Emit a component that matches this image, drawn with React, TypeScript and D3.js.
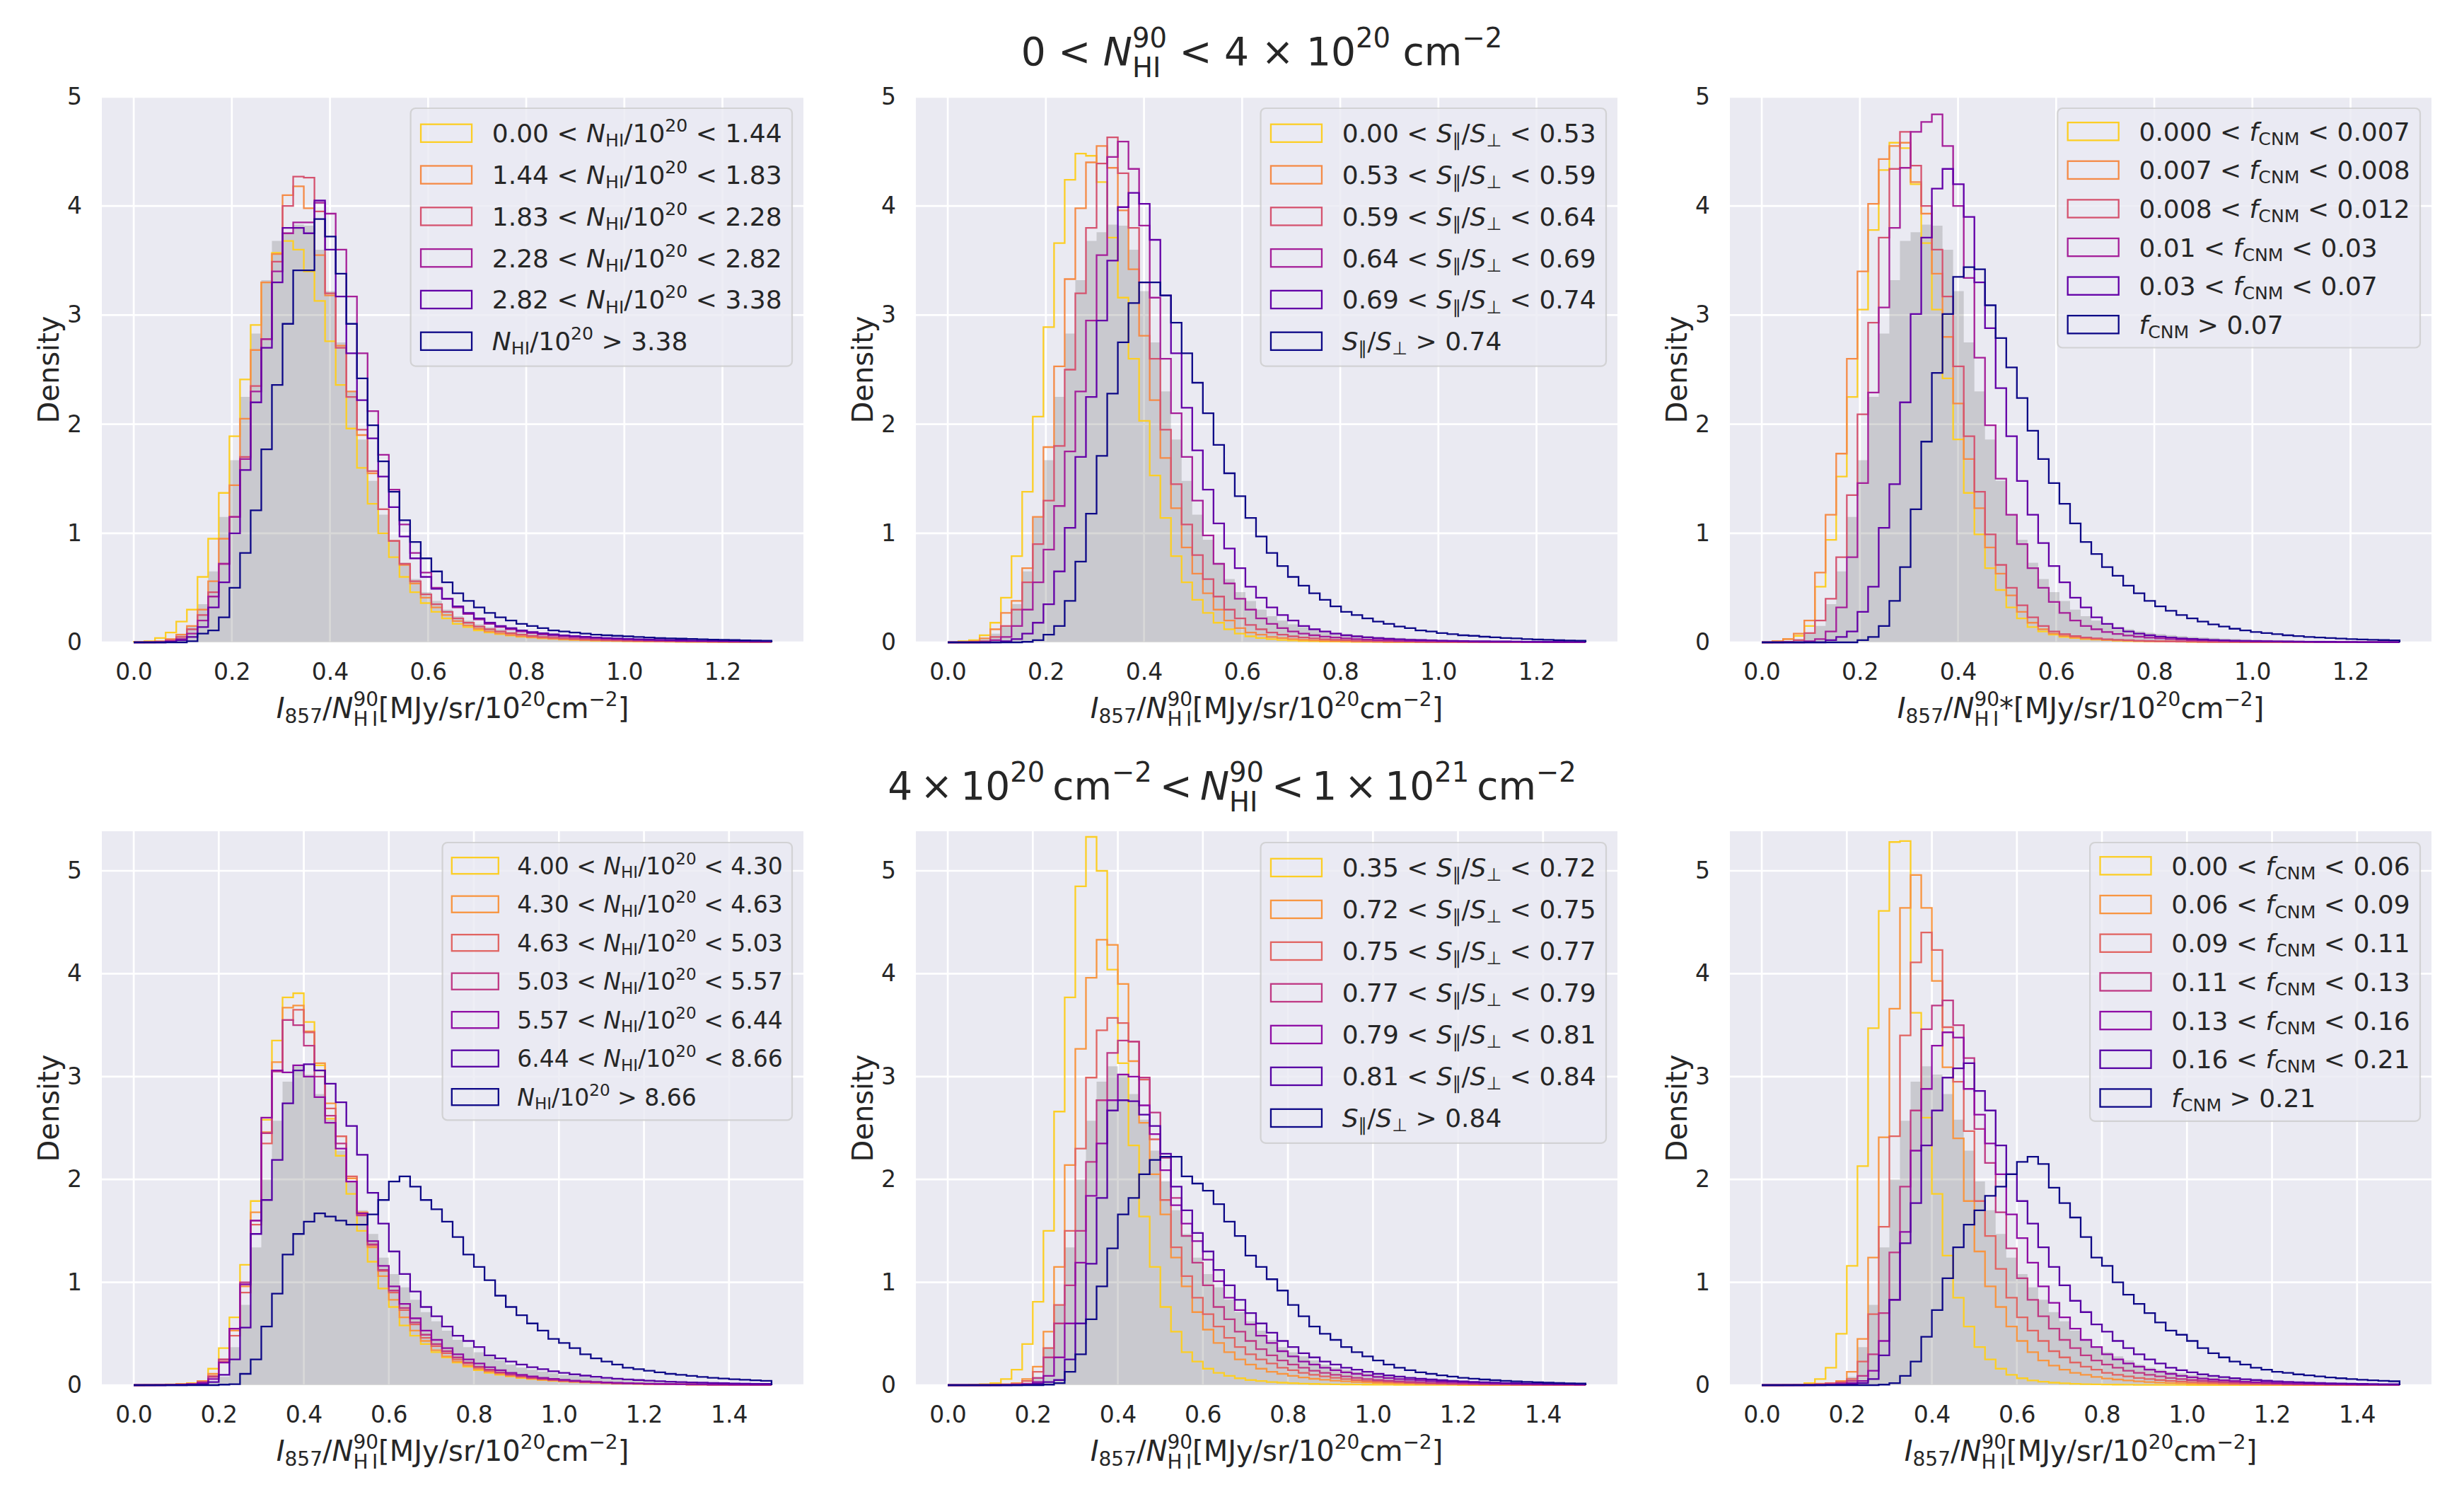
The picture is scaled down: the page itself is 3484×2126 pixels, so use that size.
import { useEffect, useRef } from "react";
import * as d3 from "d3";

// ── Figure geometry (px) ─────────────────────────────────────────────────────
const W = 3484;
const H = 2126;
const FONT = "DejaVu Sans";
const INK = "#262626";
const FACE = "#eaeaf2";
const COL_LEFT = [144, 1295, 2446];
const PANEL_W = 992;
const ROW_TOP = [137, 1175];
const ROW_BOTTOM = [908, 1958];
const TITLE_CX = [1784, 1742];
const BINS = 60;

// ── Row settings ─────────────────────────────────────────────────────────────
const ROW_XMAX = [1.3, 1.5];
const ROW_XDOMAIN = [[-0.065, 1.365], [-0.075, 1.575]];
const ROW_YMAX = [5, 5.385];
const ROW_XTICKS = [
  [0, 0.2, 0.4, 0.6, 0.8, 1.0, 1.2],
  [0, 0.2, 0.4, 0.6, 0.8, 1.0, 1.2, 1.4],
];
const Y_TICKS = [0, 1, 2, 3, 4, 5];
const LOW_T = [0.9, 0.72, 0.54, 0.36, 0.18, 0];
const HIGH_T = [0.9, 0.75, 0.6, 0.45, 0.3, 0.15, 0];

// ── Legend ranges ────────────────────────────────────────────────────────────
const NHI_LOW_RANGES = [["0.00", "1.44"], ["1.44", "1.83"], ["1.83", "2.28"], ["2.28", "2.82"], ["2.82", "3.38"]];
const NHI_LOW_TOP = "3.38";
const S_LOW_RANGES = [["0.00", "0.53"], ["0.53", "0.59"], ["0.59", "0.64"], ["0.64", "0.69"], ["0.69", "0.74"]];
const S_LOW_TOP = "0.74";
const F_LOW_RANGES = [["0.000", "0.007"], ["0.007", "0.008"], ["0.008", "0.012"], ["0.01", "0.03"], ["0.03", "0.07"]];
const F_LOW_TOP = "0.07";
const NHI_HIGH_RANGES = [["4.00", "4.30"], ["4.30", "4.63"], ["4.63", "5.03"], ["5.03", "5.57"], ["5.57", "6.44"], ["6.44", "8.66"]];
const NHI_HIGH_TOP = "8.66";
const S_HIGH_RANGES = [["0.35", "0.72"], ["0.72", "0.75"], ["0.75", "0.77"], ["0.77", "0.79"], ["0.79", "0.81"], ["0.81", "0.84"]];
const S_HIGH_TOP = "0.84";
const F_HIGH_RANGES = [["0.00", "0.06"], ["0.06", "0.09"], ["0.09", "0.11"], ["0.11", "0.13"], ["0.13", "0.16"], ["0.16", "0.21"]];
const F_HIGH_TOP = "0.21";

// ── Histogram densities, 0 < N_HI < 4e20 (60 bins over 0–1.3) ───────────────
const GREY_LOW = [
  0, 0.005, 0.01, 0.03, 0.08, 0.15, 0.35, 0.65, 1.15, 1.67,
  2.25, 2.83, 3.32, 3.68, 3.76, 3.83, 3.82, 3.6, 3.22, 2.75,
  2.3, 1.86, 1.48, 1.17, 0.94, 0.73, 0.58, 0.46, 0.38, 0.3,
  0.24, 0.2, 0.165, 0.14, 0.12, 0.1, 0.087, 0.076, 0.066, 0.058,
  0.051, 0.045, 0.04, 0.036, 0.032, 0.029, 0.026, 0.023, 0.021, 0.019,
  0.017, 0.015, 0.014, 0.013, 0.012, 0.011, 0.01, 0.009, 0.008, 0.007,
];

const LOW_NHI = [
  [0.004, 0.011, 0.04, 0.09, 0.19, 0.3, 0.6, 0.95, 1.37, 1.89,
    2.41, 2.91, 3.3, 3.57, 3.68, 3.6, 3.4, 3.13, 2.76, 2.36,
    1.96, 1.6, 1.27, 1.0, 0.78, 0.6, 0.46, 0.36, 0.28, 0.22,
    0.17, 0.14, 0.11, 0.09, 0.075, 0.062, 0.052, 0.044, 0.037, 0.031,
    0.026, 0.022, 0.019, 0.016, 0.014, 0.012, 0.01, 0.009, 0.008, 0.007,
    0.006, 0.005, 0.005, 0.004, 0.004, 0.003, 0.003, 0.003, 0.002, 0.002],
  [0, 0.005, 0.01, 0.03, 0.07, 0.15, 0.3, 0.56, 0.95, 1.44,
    2.05, 2.68, 3.3, 3.56, 4.1, 4.18, 3.98, 3.55, 3.18, 2.72,
    2.3, 1.9, 1.55, 1.22, 0.93, 0.71, 0.54, 0.41, 0.32, 0.25,
    0.195, 0.155, 0.125, 0.1, 0.082, 0.068, 0.056, 0.047, 0.04, 0.034,
    0.029, 0.025, 0.021, 0.018, 0.016, 0.014, 0.012, 0.011, 0.01, 0.009,
    0.008, 0.007, 0.006, 0.006, 0.005, 0.005, 0.004, 0.004, 0.003, 0.003],
  [0, 0, 0.005, 0.02, 0.05, 0.12, 0.25, 0.46, 0.72, 1.15,
    1.7, 2.35, 2.78, 3.49, 4.0, 4.27, 4.26, 3.95, 3.2, 2.7,
    2.25, 1.95, 1.57, 1.22, 0.93, 0.72, 0.56, 0.44, 0.35, 0.28,
    0.22, 0.18, 0.145, 0.12, 0.1, 0.083, 0.07, 0.059, 0.05, 0.043,
    0.037, 0.032, 0.028, 0.024, 0.021, 0.018, 0.016, 0.014, 0.012, 0.011,
    0.01, 0.009, 0.008, 0.007, 0.006, 0.006, 0.005, 0.005, 0.004, 0.004],
  [0, 0, 0, 0.01, 0.03, 0.08, 0.2, 0.42, 0.72, 1.15,
    1.68, 2.3, 2.78, 3.4, 3.75, 3.85, 3.85, 4.03, 3.93, 3.6,
    3.17, 2.65, 2.12, 1.72, 1.4, 1.08, 0.82, 0.64, 0.5, 0.4,
    0.32, 0.26, 0.21, 0.17, 0.14, 0.12, 0.1, 0.085, 0.073, 0.063,
    0.055, 0.048, 0.042, 0.037, 0.032, 0.028, 0.025, 0.022, 0.019, 0.017,
    0.015, 0.013, 0.012, 0.011, 0.01, 0.009, 0.008, 0.007, 0.006, 0.006],
  [0, 0, 0, 0.005, 0.02, 0.05, 0.14, 0.32, 0.55, 1.0,
    1.58, 2.2, 2.7, 3.3, 3.8, 3.8, 3.75, 4.05, 3.6, 3.17,
    2.65, 2.22, 1.87, 1.52, 1.24, 0.97, 0.77, 0.6, 0.49, 0.4,
    0.33, 0.27, 0.22, 0.18, 0.15, 0.13, 0.11, 0.095, 0.083, 0.073,
    0.064, 0.057, 0.051, 0.045, 0.04, 0.036, 0.032, 0.029, 0.026, 0.023,
    0.021, 0.019, 0.017, 0.015, 0.014, 0.013, 0.012, 0.011, 0.01, 0.009],
  [0, 0, 0, 0, 0, 0.01, 0.08, 0.11, 0.23, 0.5,
    0.82, 1.21, 1.77, 2.36, 2.92, 3.41, 3.41, 3.88, 3.72, 3.38,
    2.92, 2.42, 1.99, 1.66, 1.38, 1.12, 0.92, 0.77, 0.65, 0.55,
    0.45, 0.38, 0.32, 0.27, 0.23, 0.2, 0.17, 0.15, 0.13, 0.11,
    0.1, 0.09, 0.08, 0.07, 0.065, 0.06, 0.055, 0.05, 0.045, 0.04,
    0.037, 0.034, 0.031, 0.028, 0.025, 0.023, 0.021, 0.019, 0.017, 0.015],
];

const LOW_S = [
  [0, 0.01, 0.02, 0.065, 0.18, 0.41, 0.79, 1.38, 2.07, 2.89,
    3.66, 4.24, 4.48, 4.46, 4.22, 3.71, 3.16, 2.6, 2.03, 1.53,
    1.14, 0.79, 0.55, 0.39, 0.27, 0.18, 0.12, 0.08, 0.055, 0.04,
    0.03, 0.022, 0.017, 0.013, 0.01, 0.008, 0.007, 0.006, 0.005, 0.004,
    0.004, 0.003, 0.003, 0.003, 0.002, 0.002, 0.002, 0.002, 0.001, 0.001,
    0.001, 0.001, 0.001, 0.001, 0.001, 0.001, 0.001, 0.001, 0.001, 0.001],
  [0, 0, 0.01, 0.036, 0.12, 0.27, 0.38, 0.68, 1.15, 1.79,
    2.53, 3.33, 3.98, 4.4, 4.55, 4.35, 3.96, 3.42, 2.81, 2.22,
    1.69, 1.23, 0.87, 0.63, 0.45, 0.3, 0.2, 0.13, 0.09, 0.07,
    0.05, 0.04, 0.03, 0.024, 0.019, 0.015, 0.012, 0.01, 0.008, 0.007,
    0.006, 0.005, 0.004, 0.004, 0.003, 0.003, 0.003, 0.002, 0.002, 0.002,
    0.002, 0.002, 0.001, 0.001, 0.001, 0.001, 0.001, 0.001, 0.001, 0.001],
  [0, 0, 0, 0.01, 0.05, 0.15, 0.3, 0.55, 0.9, 1.3,
    1.8, 2.5, 3.2, 3.8, 4.39, 4.63, 4.3, 3.8, 3.3, 2.6,
    1.95, 1.45, 1.08, 0.8, 0.58, 0.42, 0.3, 0.22, 0.16, 0.12,
    0.09, 0.07, 0.055, 0.045, 0.036, 0.029, 0.024, 0.02, 0.016, 0.013,
    0.011, 0.009, 0.008, 0.007, 0.006, 0.005, 0.004, 0.004, 0.003, 0.003,
    0.003, 0.002, 0.002, 0.002, 0.002, 0.001, 0.001, 0.001, 0.001, 0.001],
  [0, 0, 0, 0, 0.02, 0.05, 0.15, 0.3, 0.55, 0.85,
    1.25, 1.75, 2.3, 2.95, 3.55, 4.45, 4.59, 4.34, 3.82, 3.16,
    2.6, 2.1, 1.7, 1.3, 0.98, 0.72, 0.54, 0.4, 0.3, 0.22,
    0.17, 0.13, 0.1, 0.08, 0.065, 0.053, 0.044, 0.036, 0.03, 0.025,
    0.021, 0.018, 0.015, 0.013, 0.011, 0.01, 0.009, 0.008, 0.007, 0.006,
    0.005, 0.005, 0.004, 0.004, 0.003, 0.003, 0.003, 0.002, 0.002, 0.002],
  [0, 0, 0, 0, 0, 0.01, 0.03, 0.08, 0.18, 0.35,
    0.65, 1.05, 1.7, 2.25, 2.95, 3.5, 3.99, 4.12, 4.02, 3.69,
    3.18, 2.65, 2.15, 1.76, 1.4, 1.09, 0.86, 0.68, 0.51, 0.41,
    0.32, 0.25, 0.2, 0.15, 0.12, 0.1, 0.08, 0.065, 0.055, 0.046,
    0.039, 0.033, 0.028, 0.024, 0.021, 0.018, 0.016, 0.014, 0.012, 0.011,
    0.01, 0.009, 0.008, 0.007, 0.006, 0.006, 0.005, 0.005, 0.004, 0.004],
  [0, 0, 0, 0, 0, 0, 0, 0.005, 0.02, 0.07,
    0.15, 0.38, 0.74, 1.18, 1.71, 2.28, 2.75, 3.11, 3.3, 3.3,
    3.18, 2.93, 2.65, 2.38, 2.1, 1.81, 1.55, 1.34, 1.14, 0.97,
    0.82, 0.7, 0.6, 0.52, 0.45, 0.39, 0.33, 0.28, 0.25, 0.22,
    0.19, 0.17, 0.145, 0.13, 0.11, 0.1, 0.085, 0.075, 0.065, 0.06,
    0.052, 0.046, 0.04, 0.036, 0.03, 0.026, 0.023, 0.02, 0.017, 0.015],
];

const LOW_F = [
  [0, 0.01, 0.03, 0.06, 0.15, 0.51, 0.94, 1.52, 2.25, 3.05,
    3.78, 4.33, 4.58, 4.53, 4.2, 3.66, 3.05, 2.42, 1.86, 1.37,
    0.99, 0.68, 0.48, 0.32, 0.22, 0.14, 0.1, 0.07, 0.05, 0.04,
    0.03, 0.025, 0.02, 0.016, 0.013, 0.011, 0.009, 0.008, 0.007, 0.006,
    0.005, 0.005, 0.004, 0.004, 0.003, 0.003, 0.003, 0.002, 0.002, 0.002,
    0.002, 0.002, 0.001, 0.001, 0.001, 0.001, 0.001, 0.001, 0.001, 0.001],
  [0, 0.01, 0.03, 0.08, 0.2, 0.64, 1.17, 1.73, 2.6, 3.4,
    4.02, 4.43, 4.55, 4.58, 4.22, 3.93, 3.38, 2.8, 2.19, 1.68,
    1.23, 0.87, 0.63, 0.43, 0.28, 0.18, 0.12, 0.08, 0.06, 0.045,
    0.035, 0.028, 0.022, 0.018, 0.015, 0.012, 0.01, 0.009, 0.008, 0.007,
    0.006, 0.005, 0.005, 0.004, 0.004, 0.003, 0.003, 0.003, 0.002, 0.002,
    0.002, 0.002, 0.002, 0.002, 0.002, 0.001, 0.001, 0.001, 0.001, 0.001],
  [0, 0, 0.005, 0.02, 0.085, 0.2, 0.4, 0.78, 1.35, 2.09,
    2.93, 3.71, 4.34, 4.68, 4.37, 4.0, 3.6, 3.17, 2.53, 1.89,
    1.38, 0.99, 0.71, 0.5, 0.34, 0.23, 0.15, 0.1, 0.075, 0.058,
    0.045, 0.036, 0.029, 0.024, 0.02, 0.016, 0.013, 0.011, 0.009, 0.008,
    0.007, 0.006, 0.005, 0.004, 0.004, 0.003, 0.003, 0.003, 0.002, 0.002,
    0.002, 0.002, 0.002, 0.002, 0.001, 0.001, 0.001, 0.001, 0.001, 0.001],
  [0, 0, 0, 0, 0.01, 0.03, 0.1, 0.32, 0.78, 1.46,
    2.29, 3.07, 3.8, 4.35, 4.68, 4.77, 4.84, 4.55, 4.0, 3.34,
    2.61, 1.99, 1.5, 1.17, 0.9, 0.68, 0.5, 0.37, 0.27, 0.2,
    0.15, 0.12, 0.095, 0.077, 0.063, 0.052, 0.043, 0.036, 0.03, 0.025,
    0.021, 0.018, 0.015, 0.013, 0.011, 0.01, 0.009, 0.008, 0.007, 0.006,
    0.005, 0.005, 0.004, 0.004, 0.003, 0.003, 0.003, 0.002, 0.002, 0.002],
  [0, 0, 0, 0, 0, 0, 0.02, 0.05, 0.1, 0.28,
    0.51, 1.05, 1.45, 2.2, 3.01, 3.71, 4.16, 4.34, 4.2, 3.9,
    3.3, 2.88, 2.33, 1.89, 1.48, 1.17, 0.91, 0.7, 0.55, 0.41,
    0.32, 0.23, 0.17, 0.13, 0.1, 0.08, 0.065, 0.053, 0.044, 0.037,
    0.031, 0.026, 0.022, 0.019, 0.016, 0.014, 0.012, 0.01, 0.009, 0.008,
    0.007, 0.006, 0.005, 0.005, 0.004, 0.004, 0.003, 0.003, 0.003, 0.002],
  [0, 0, 0, 0, 0, 0, 0, 0, 0, 0.02,
    0.05, 0.15, 0.38, 0.69, 1.22, 1.84, 2.47, 3.01, 3.35, 3.44,
    3.42, 3.09, 2.79, 2.52, 2.24, 1.94, 1.68, 1.46, 1.27, 1.09,
    0.92, 0.81, 0.69, 0.61, 0.52, 0.45, 0.38, 0.33, 0.29, 0.25,
    0.22, 0.19, 0.165, 0.145, 0.125, 0.11, 0.095, 0.085, 0.075, 0.065,
    0.058, 0.05, 0.045, 0.04, 0.035, 0.03, 0.027, 0.024, 0.021, 0.019],
];

// ── Histogram densities, 4e20 < N_HI < 1e21 (60 bins over 0–1.5) ────────────
const GREY_HIGH = [
  0, 0, 0, 0, 0, 0, 0.005, 0.02, 0.08, 0.37,
  0.78, 1.34, 2.0, 2.57, 2.95, 3.1, 3.02, 2.83, 2.58, 2.28,
  1.98, 1.7, 1.47, 1.24, 1.08, 0.95, 0.83, 0.71, 0.62, 0.53,
  0.44, 0.37, 0.32, 0.28, 0.24, 0.2, 0.17, 0.15, 0.13, 0.115,
  0.1, 0.09, 0.08, 0.07, 0.062, 0.055, 0.049, 0.044, 0.039, 0.035,
  0.031, 0.028, 0.025, 0.022, 0.02, 0.018, 0.016, 0.014, 0.013, 0.012,
];

const HIGH_NHI = [
  [0, 0.003, 0.005, 0.008, 0.012, 0.02, 0.04, 0.16, 0.36, 0.66,
    1.17, 1.79, 2.58, 3.35, 3.77, 3.81, 3.53, 3.11, 2.59, 2.23,
    1.86, 1.5, 1.2, 0.94, 0.76, 0.58, 0.48, 0.4, 0.32, 0.27,
    0.22, 0.18, 0.145, 0.12, 0.1, 0.085, 0.07, 0.06, 0.05, 0.043,
    0.037, 0.032, 0.027, 0.023, 0.02, 0.017, 0.015, 0.013, 0.011, 0.01,
    0.009, 0.008, 0.007, 0.006, 0.005, 0.005, 0.004, 0.004, 0.003, 0.003],
  [0, 0.002, 0.004, 0.006, 0.01, 0.015, 0.04, 0.11, 0.25, 0.53,
    0.96, 1.68, 2.46, 3.14, 3.67, 3.69, 3.44, 3.13, 2.74, 2.42,
    2.01, 1.68, 1.34, 1.06, 0.83, 0.66, 0.53, 0.43, 0.34, 0.28,
    0.23, 0.19, 0.155, 0.13, 0.11, 0.09, 0.075, 0.063, 0.053, 0.045,
    0.038, 0.032, 0.027, 0.023, 0.02, 0.017, 0.015, 0.013, 0.011, 0.01,
    0.009, 0.008, 0.007, 0.006, 0.005, 0.005, 0.004, 0.004, 0.003, 0.003],
  [0, 0, 0.002, 0.004, 0.007, 0.01, 0.03, 0.09, 0.23, 0.48,
    0.9, 1.56, 2.35, 3.06, 3.55, 3.65, 3.43, 3.06, 2.69, 2.42,
    2.03, 1.66, 1.36, 1.11, 0.9, 0.73, 0.59, 0.46, 0.38, 0.31,
    0.25, 0.21, 0.17, 0.14, 0.12, 0.1, 0.085, 0.07, 0.06, 0.05,
    0.042, 0.036, 0.03, 0.026, 0.022, 0.019, 0.016, 0.014, 0.012, 0.01,
    0.009, 0.008, 0.007, 0.006, 0.005, 0.005, 0.004, 0.004, 0.003, 0.003],
  [0, 0, 0, 0.003, 0.006, 0.01, 0.03, 0.08, 0.25, 0.55,
    1.0, 1.6, 2.45, 3.05, 3.55, 3.5, 3.3, 3.0, 2.62, 2.35,
    1.98, 1.65, 1.37, 1.12, 0.92, 0.75, 0.61, 0.49, 0.4, 0.33,
    0.27, 0.22, 0.18, 0.15, 0.125, 0.105, 0.088, 0.074, 0.062, 0.052,
    0.044, 0.037, 0.031, 0.026, 0.022, 0.019, 0.016, 0.014, 0.012, 0.01,
    0.009, 0.008, 0.007, 0.006, 0.005, 0.005, 0.004, 0.004, 0.003, 0.003],
  [0, 0, 0, 0.002, 0.005, 0.01, 0.02, 0.06, 0.22, 0.55,
    0.98, 1.6, 2.6, 3.06, 3.04, 3.11, 3.0, 2.8, 2.55, 2.3,
    1.98, 1.67, 1.4, 1.16, 0.96, 0.79, 0.65, 0.53, 0.44, 0.36,
    0.3, 0.25, 0.21, 0.175, 0.145, 0.12, 0.1, 0.085, 0.072, 0.061,
    0.052, 0.044, 0.037, 0.032, 0.027, 0.023, 0.02, 0.017, 0.015, 0.013,
    0.011, 0.01, 0.009, 0.008, 0.007, 0.006, 0.005, 0.005, 0.004, 0.004],
  [0, 0, 0, 0, 0, 0.005, 0.01, 0.03, 0.1, 0.25,
    0.56, 1.47, 1.8, 2.19, 2.74, 3.06, 3.12, 3.06, 2.93, 2.75,
    2.52, 2.24, 1.87, 1.57, 1.3, 1.08, 0.91, 0.76, 0.67, 0.57,
    0.48, 0.43, 0.37, 0.29, 0.26, 0.23, 0.2, 0.175, 0.155, 0.135,
    0.12, 0.105, 0.093, 0.082, 0.072, 0.063, 0.056, 0.05, 0.044, 0.039,
    0.034, 0.03, 0.027, 0.024, 0.021, 0.019, 0.017, 0.015, 0.013, 0.012],
  [0, 0, 0, 0, 0, 0, 0, 0, 0.005, 0.01,
    0.11, 0.25, 0.57, 0.89, 1.27, 1.47, 1.59, 1.67, 1.64, 1.6,
    1.56, 1.56, 1.66, 1.8, 1.98, 2.03, 1.93, 1.8, 1.71, 1.59,
    1.44, 1.27, 1.15, 1.02, 0.87, 0.76, 0.68, 0.6, 0.53, 0.45,
    0.41, 0.36, 0.3, 0.26, 0.23, 0.2, 0.17, 0.155, 0.14, 0.125,
    0.11, 0.1, 0.09, 0.08, 0.072, 0.065, 0.058, 0.052, 0.047, 0.042],
];

const HIGH_S = [
  [0, 0, 0.005, 0.01, 0.02, 0.06, 0.15, 0.4, 0.81, 1.5,
    2.66, 3.77, 4.85, 5.33, 5.0, 4.04, 3.13, 2.33, 1.64, 1.15,
    0.76, 0.52, 0.32, 0.23, 0.16, 0.12, 0.09, 0.067, 0.05, 0.04,
    0.03, 0.024, 0.019, 0.015, 0.012, 0.01, 0.008, 0.007, 0.006, 0.005,
    0.004, 0.004, 0.003, 0.003, 0.002, 0.002, 0.002, 0.002, 0.001, 0.001,
    0.001, 0.001, 0.001, 0.001, 0.001, 0.001, 0.001, 0.001, 0.001, 0.001],
  [0, 0, 0, 0.003, 0.006, 0.01, 0.02, 0.06, 0.18, 0.52,
    1.15, 2.14, 3.27, 3.96, 4.33, 4.28, 3.9, 3.15, 2.55, 2.05,
    1.66, 1.24, 0.96, 0.71, 0.54, 0.41, 0.32, 0.25, 0.2, 0.16,
    0.13, 0.11, 0.09, 0.075, 0.062, 0.052, 0.044, 0.037, 0.031, 0.026,
    0.022, 0.019, 0.016, 0.014, 0.012, 0.01, 0.009, 0.008, 0.007, 0.006,
    0.005, 0.005, 0.004, 0.004, 0.003, 0.003, 0.003, 0.002, 0.002, 0.002],
  [0, 0, 0, 0, 0.003, 0.006, 0.012, 0.04, 0.13, 0.36,
    0.78, 1.5, 2.3, 2.99, 3.45, 3.57, 3.52, 3.34, 2.97, 2.39,
    1.8, 1.34, 1.06, 0.85, 0.69, 0.57, 0.46, 0.37, 0.3, 0.25,
    0.21, 0.17, 0.145, 0.12, 0.1, 0.085, 0.072, 0.06, 0.05, 0.042,
    0.036, 0.03, 0.026, 0.022, 0.019, 0.016, 0.014, 0.012, 0.01, 0.009,
    0.008, 0.007, 0.006, 0.005, 0.005, 0.004, 0.004, 0.003, 0.003, 0.003],
  [0, 0, 0, 0, 0, 0.003, 0.006, 0.015, 0.07, 0.27,
    0.6, 0.97, 1.5, 2.17, 2.77, 3.23, 3.35, 3.34, 2.99, 2.65,
    2.21, 1.82, 1.45, 1.19, 0.97, 0.76, 0.64, 0.52, 0.43, 0.35,
    0.29, 0.24, 0.2, 0.17, 0.14, 0.12, 0.1, 0.085, 0.072, 0.06,
    0.05, 0.043, 0.036, 0.031, 0.026, 0.022, 0.019, 0.016, 0.014, 0.012,
    0.01, 0.009, 0.008, 0.007, 0.006, 0.005, 0.005, 0.004, 0.004, 0.003],
  [0, 0, 0, 0, 0, 0, 0.003, 0.008, 0.03, 0.09,
    0.27, 0.6, 1.19, 1.84, 2.35, 2.77, 3.02, 3.0, 2.72, 2.44,
    2.09, 1.75, 1.57, 1.4, 1.22, 1.01, 0.85, 0.73, 0.59, 0.48,
    0.41, 0.33, 0.28, 0.23, 0.2, 0.17, 0.145, 0.125, 0.11, 0.095,
    0.08, 0.07, 0.06, 0.052, 0.045, 0.039, 0.034, 0.03, 0.026, 0.023,
    0.02, 0.018, 0.016, 0.014, 0.012, 0.011, 0.01, 0.009, 0.008, 0.007],
  [0, 0, 0, 0, 0, 0, 0, 0.005, 0.015, 0.03,
    0.05, 0.25, 0.6, 1.18, 1.82, 2.67, 2.77, 2.76, 2.63, 2.52,
    2.25, 1.93, 1.7, 1.48, 1.3, 1.12, 0.97, 0.83, 0.7, 0.6,
    0.51, 0.43, 0.37, 0.31, 0.27, 0.23, 0.2, 0.17, 0.15, 0.13,
    0.11, 0.095, 0.083, 0.072, 0.063, 0.055, 0.048, 0.042, 0.037, 0.032,
    0.028, 0.025, 0.022, 0.019, 0.017, 0.015, 0.013, 0.012, 0.011, 0.01],
  [0, 0, 0, 0, 0, 0, 0, 0, 0, 0.005,
    0.02, 0.13, 0.3, 0.64, 0.96, 1.33, 1.66, 1.82, 2.05, 2.19,
    2.22, 2.22, 2.03, 1.96, 1.89, 1.76, 1.59, 1.45, 1.26, 1.15,
    1.03, 0.92, 0.78, 0.67, 0.57, 0.5, 0.44, 0.37, 0.32, 0.28,
    0.24, 0.2, 0.17, 0.145, 0.125, 0.11, 0.095, 0.083, 0.072, 0.063,
    0.055, 0.048, 0.042, 0.037, 0.032, 0.028, 0.024, 0.021, 0.018, 0.016],
];

const HIGH_F = [
  [0, 0, 0.002, 0.006, 0.02, 0.06, 0.17, 0.5, 1.16, 2.13,
    3.47, 4.61, 5.28, 5.29, 3.62, 2.6, 1.86, 1.26, 0.85, 0.57,
    0.37, 0.25, 0.16, 0.1, 0.067, 0.046, 0.033, 0.024, 0.018, 0.013,
    0.01, 0.008, 0.006, 0.005, 0.004, 0.003, 0.003, 0.002, 0.002, 0.002,
    0.001, 0.001, 0.001, 0.001, 0.001, 0.001, 0.001, 0.001, 0.001, 0.001,
    0.001, 0.001, 0.001, 0.001, 0.001, 0.001, 0.001, 0.001, 0.001, 0.001],
  [0, 0, 0.002, 0.004, 0.008, 0.015, 0.02, 0.04, 0.13, 0.45,
    1.24, 2.41, 3.66, 4.64, 4.96, 4.64, 3.93, 3.09, 2.4, 1.79,
    1.3, 0.96, 0.76, 0.57, 0.43, 0.32, 0.24, 0.19, 0.15, 0.12,
    0.1, 0.08, 0.065, 0.055, 0.045, 0.037, 0.03, 0.025, 0.021, 0.018,
    0.015, 0.013, 0.011, 0.009, 0.008, 0.007, 0.006, 0.005, 0.004, 0.004,
    0.003, 0.003, 0.003, 0.002, 0.002, 0.002, 0.002, 0.001, 0.001, 0.001],
  [0, 0, 0, 0.002, 0.005, 0.01, 0.02, 0.03, 0.06, 0.23,
    0.69, 1.54, 2.42, 3.4, 4.11, 4.4, 4.23, 3.48, 2.95, 2.47,
    1.79, 1.45, 1.13, 0.85, 0.66, 0.53, 0.43, 0.33, 0.27, 0.22,
    0.18, 0.15, 0.12, 0.1, 0.085, 0.07, 0.06, 0.05, 0.042, 0.035,
    0.03, 0.025, 0.021, 0.018, 0.015, 0.013, 0.011, 0.009, 0.008, 0.007,
    0.006, 0.005, 0.004, 0.004, 0.003, 0.003, 0.003, 0.002, 0.002, 0.002],
  [0, 0, 0, 0, 0.002, 0.005, 0.01, 0.02, 0.04, 0.09,
    0.3, 0.7, 1.29, 1.93, 2.67, 3.46, 3.69, 3.74, 3.5, 3.18,
    2.49, 2.16, 1.68, 1.33, 1.04, 0.83, 0.67, 0.55, 0.44, 0.36,
    0.29, 0.24, 0.2, 0.17, 0.14, 0.12, 0.1, 0.085, 0.07, 0.06,
    0.05, 0.043, 0.036, 0.031, 0.026, 0.022, 0.019, 0.016, 0.014, 0.012,
    0.01, 0.009, 0.008, 0.007, 0.006, 0.005, 0.005, 0.004, 0.004, 0.003],
  [0, 0, 0, 0, 0, 0.002, 0.005, 0.01, 0.02, 0.04,
    0.14, 0.43, 0.83, 1.49, 2.28, 2.88, 3.3, 3.43, 3.38, 2.88,
    2.63, 2.35, 2.05, 1.66, 1.43, 1.19, 0.96, 0.8, 0.66, 0.55,
    0.44, 0.37, 0.3, 0.25, 0.21, 0.18, 0.15, 0.13, 0.11, 0.09,
    0.077, 0.065, 0.055, 0.047, 0.04, 0.034, 0.029, 0.025, 0.021, 0.018,
    0.016, 0.014, 0.012, 0.01, 0.009, 0.008, 0.007, 0.006, 0.005, 0.005],
  [0, 0, 0, 0, 0, 0, 0.002, 0.005, 0.01, 0.02,
    0.06, 0.29, 0.83, 1.38, 1.77, 2.33, 2.67, 2.99, 3.08, 3.13,
    2.86, 2.67, 2.33, 2.05, 1.79, 1.57, 1.34, 1.15, 0.97, 0.82,
    0.71, 0.59, 0.52, 0.43, 0.36, 0.3, 0.25, 0.21, 0.17, 0.145,
    0.125, 0.105, 0.09, 0.078, 0.067, 0.058, 0.05, 0.043, 0.037, 0.032,
    0.028, 0.024, 0.021, 0.018, 0.016, 0.014, 0.012, 0.011, 0.01, 0.009],
  [0, 0, 0, 0, 0, 0, 0, 0, 0, 0,
    0, 0.005, 0.02, 0.09, 0.23, 0.47, 0.73, 1.04, 1.34, 1.56,
    1.7, 1.84, 1.93, 2.05, 2.17, 2.22, 2.15, 1.92, 1.77, 1.63,
    1.44, 1.24, 1.16, 1.0, 0.88, 0.79, 0.7, 0.61, 0.53, 0.49,
    0.43, 0.36, 0.31, 0.27, 0.23, 0.2, 0.17, 0.15, 0.13, 0.12,
    0.105, 0.095, 0.085, 0.075, 0.067, 0.06, 0.053, 0.047, 0.042, 0.038],
];

// ── Rich text (mathtext-like) helpers ────────────────────────────────────────
type Piece = { t: string; it?: boolean; sub?: boolean; sup?: boolean; stack?: boolean };

const NHI_VAR: Piece[] = [{ t: "N", it: true }, { t: "HI", sub: true }, { t: "/10" }, { t: "20", sup: true }];
const S_VAR: Piece[] = [{ t: "S", it: true }, { t: "\u2225", sub: true }, { t: "/" }, { t: "S", it: true }, { t: "\u22a5", sub: true }];
const F_VAR: Piece[] = [{ t: "f", it: true }, { t: "CNM", sub: true }];

function rangeLabels(ranges: string[][], top: string, v: Piece[]): Piece[][] {
  const out = ranges.map(([lo, hi]) => [{ t: `${lo} < ` }, ...v, { t: ` < ${hi}` }]);
  out.push([...v, { t: ` > ${top}` }]);
  return out;
}

function xLabel(star: boolean): Piece[] {
  return [
    { t: "I", it: true }, { t: "857", sub: true }, { t: "/" }, { t: "N", it: true },
    { t: "90", sup: true }, { t: "H\u2009I", sub: true, stack: true },
    ...(star ? [{ t: "*" }] : []),
    { t: "[MJy/sr/10" }, { t: "20", sup: true }, { t: "cm" }, { t: "\u22122", sup: true }, { t: "]" },
  ];
}

const TS = "\u2009"; // thin space, as in the second title
const TITLE_LOW: Piece[] = [
  { t: "0 < " }, { t: "N", it: true }, { t: "90", sup: true }, { t: "HI", sub: true, stack: true },
  { t: " < 4 \u00d7 10" }, { t: "20", sup: true }, { t: " cm" }, { t: "\u22122", sup: true },
];
const TITLE_HIGH: Piece[] = [
  { t: `4${TS}\u00d7${TS}10` }, { t: "20", sup: true }, { t: `${TS}cm` }, { t: "\u22122", sup: true },
  { t: `${TS}<${TS}` }, { t: "N", it: true }, { t: "90", sup: true }, { t: "HI", sub: true, stack: true },
  { t: `${TS}<${TS}1${TS}\u00d7${TS}10` }, { t: "21", sup: true }, { t: `${TS}cm` }, { t: "\u22122", sup: true },
];

function writeRich(text: any, pieces: Piece[], size: number, supRise = 0.42, stackDrop = 0.27) {
  let cur = 0;
  let prevLen = 0;
  let carry = 0;
  for (const p of pieces) {
    const small = p.sub || p.sup;
    const target = p.sub ? size * (p.stack ? stackDrop : 0.17) : p.sup ? -size * supRise : 0;
    const ts = text
      .append("tspan")
      .attr("font-size", small ? size * 0.7 : size)
      .attr("font-style", p.it ? "italic" : "normal")
      .attr("dy", target - cur)
      .text(p.t);
    const dx = carry - (p.stack ? prevLen : 0);
    if (dx !== 0) ts.attr("dx", dx);
    const len = (ts.node() as SVGTextContentElement).getComputedTextLength();
    carry = p.stack ? Math.max(0, prevLen - len) : 0;
    prevLen = len;
    cur = target;
  }
}

// ── Panel definitions ────────────────────────────────────────────────────────
const PANELS = [
  { row: 0, col: 0, hists: LOW_NHI, grey: GREY_LOW, labels: rangeLabels(NHI_LOW_RANGES, NHI_LOW_TOP, NHI_VAR), lf: 36, rowH: 58.8, star: false },
  { row: 0, col: 1, hists: LOW_S, grey: GREY_LOW, labels: rangeLabels(S_LOW_RANGES, S_LOW_TOP, S_VAR), lf: 36, rowH: 58.8, star: false },
  { row: 0, col: 2, hists: LOW_F, grey: GREY_LOW, labels: rangeLabels(F_LOW_RANGES, F_LOW_TOP, F_VAR), lf: 36, rowH: 54.6, star: true },
  { row: 1, col: 0, hists: HIGH_NHI, grey: GREY_HIGH, labels: rangeLabels(NHI_HIGH_RANGES, NHI_HIGH_TOP, NHI_VAR), lf: 33, rowH: 54.5, star: false },
  { row: 1, col: 1, hists: HIGH_S, grey: GREY_HIGH, labels: rangeLabels(S_HIGH_RANGES, S_HIGH_TOP, S_VAR), lf: 36, rowH: 59, star: false },
  { row: 1, col: 2, hists: HIGH_F, grey: GREY_HIGH, labels: rangeLabels(F_HIGH_RANGES, F_HIGH_TOP, F_VAR), lf: 36, rowH: 54.7, star: false },
];

export default function App() {
  const svgRef = useRef<SVGSVGElement>(null);

  useEffect(() => {
    if (!svgRef.current) return;
    const svg = d3.select(svgRef.current);
    svg.selectAll("*").remove();
    svg.append("rect").attr("width", W).attr("height", H).attr("fill", "#ffffff");

    // ── Row titles ──────────────────────────────────────────────────────────
    [TITLE_LOW, TITLE_HIGH].forEach((pieces, r) => {
      const t = svg
        .append("text")
        .attr("x", TITLE_CX[r])
        .attr("y", ROW_TOP[r] - 45)
        .attr("text-anchor", "middle")
        .attr("font-family", FONT)
        .attr("fill", INK)
        .style("white-space", "pre");
      writeRich(t, pieces, 55, 0.45, 0.31);
    });

    PANELS.forEach((p) => {
      const left = COL_LEFT[p.col];
      const top = ROW_TOP[p.row];
      const bottom = ROW_BOTTOM[p.row];
      const ih = bottom - top;
      const g = svg.append("g").attr("transform", `translate(${left},${top})`);

      const x = d3.scaleLinear().domain(ROW_XDOMAIN[p.row]).range([0, PANEL_W]);
      const y = d3.scaleLinear().domain([0, ROW_YMAX[p.row]]).range([ih, 0]);
      const xMax = ROW_XMAX[p.row];
      const edges = d3.range(BINS + 1).map((i) => (i * xMax) / BINS);
      const colors = (p.row === 0 ? LOW_T : HIGH_T).map((t) => d3.interpolatePlasma(t));

      // ── Background + grid ───────────────────────────────────────────────
      g.append("rect").attr("width", PANEL_W).attr("height", ih).attr("fill", FACE);
      g.selectAll(".gx")
        .data(ROW_XTICKS[p.row])
        .enter()
        .append("line")
        .attr("x1", (d) => x(d))
        .attr("x2", (d) => x(d))
        .attr("y1", 0)
        .attr("y2", ih)
        .attr("stroke", "#ffffff")
        .attr("stroke-width", 2.7);
      g.selectAll(".gy")
        .data(Y_TICKS)
        .enter()
        .append("line")
        .attr("x1", 0)
        .attr("x2", PANEL_W)
        .attr("y1", (d) => y(d))
        .attr("y2", (d) => y(d))
        .attr("stroke", "#ffffff")
        .attr("stroke-width", 2.7);

      // ── Grey overall histogram ──────────────────────────────────────────
      const greyPts: [number, number][] = p.grey.map((v, i) => [edges[i], v]);
      greyPts.push([edges[BINS], p.grey[BINS - 1]]);
      const area = d3
        .area<[number, number]>()
        .x((d) => x(d[0]))
        .y0(y(0))
        .y1((d) => y(d[1]))
        .curve(d3.curveStepAfter);
      g.append("path").datum(greyPts).attr("d", area).attr("fill", "#808080").attr("fill-opacity", 0.31);

      // ── Step histograms ─────────────────────────────────────────────────
      const line = d3
        .line<[number, number]>()
        .x((d) => x(d[0]))
        .y((d) => y(d[1]))
        .curve(d3.curveStepAfter);
      p.hists.forEach((vals, si) => {
        const pts: [number, number][] = [[edges[0], 0]];
        vals.forEach((v, i) => pts.push([edges[i], v]));
        pts.push([edges[BINS], vals[BINS - 1]]);
        pts.push([edges[BINS], 0]);
        g.append("path")
          .datum(pts)
          .attr("d", line)
          .attr("fill", "none")
          .attr("stroke", colors[si])
          .attr("stroke-width", 2.3)
          .attr("stroke-linejoin", "miter");
      });

      // ── Axes ────────────────────────────────────────────────────────────
      const xAxis = g
        .append("g")
        .attr("transform", `translate(0,${ih})`)
        .call(d3.axisBottom(x).tickValues(ROW_XTICKS[p.row]).tickFormat(d3.format(".1f")).tickSize(0).tickPadding(30));
      xAxis.select(".domain").remove();
      xAxis.attr("font-size", 33).attr("font-family", FONT);
      xAxis.selectAll("text").attr("fill", INK);

      const yAxis = g
        .append("g")
        .call(d3.axisLeft(y).tickValues(Y_TICKS).tickFormat(d3.format("d")).tickSize(0).tickPadding(28));
      yAxis.select(".domain").remove();
      yAxis.attr("font-size", 33).attr("font-family", FONT);
      yAxis.selectAll("text").attr("fill", INK);

      g.append("text")
        .attr("transform", `translate(-61,${ih / 2}) rotate(-90)`)
        .attr("text-anchor", "middle")
        .attr("font-family", FONT)
        .attr("font-size", 40)
        .attr("fill", INK)
        .text("Density");

      const xl = g
        .append("text")
        .attr("x", PANEL_W / 2)
        .attr("y", ih + 107)
        .attr("text-anchor", "middle")
        .attr("font-family", FONT)
        .attr("fill", INK)
        .style("white-space", "pre");
      writeRich(xl, xLabel(p.star), 40);

      // ── Legend ──────────────────────────────────────────────────────────
      const fs = p.lf;
      const n = p.labels.length;
      const lg = g.append("g");
      const frame = lg.append("rect");
      const texts = lg.append("g");
      let maxW = 0;
      p.labels.forEach((pieces, i) => {
        const cy = 0.6 * p.rowH + i * p.rowH;
        const t = texts
          .append("text")
          .attr("x", 3.2 * fs)
          .attr("y", cy + 0.36 * fs)
          .attr("font-family", FONT)
          .attr("fill", INK)
          .style("white-space", "pre");
        writeRich(t, pieces, fs);
        maxW = Math.max(maxW, (t.node() as SVGTextElement).getComputedTextLength());
        lg.append("rect")
          .attr("x", 0.4 * fs)
          .attr("y", cy - 0.35 * fs)
          .attr("width", 2 * fs)
          .attr("height", 0.7 * fs)
          .attr("fill", "none")
          .attr("stroke", colors[i])
          .attr("stroke-width", 2.3);
      });
      const boxW = 3.6 * fs + maxW;
      const boxH = 1.2 * p.rowH + (n - 1) * p.rowH;
      frame
        .attr("width", boxW)
        .attr("height", boxH)
        .attr("rx", 7)
        .attr("fill", FACE)
        .attr("fill-opacity", 0.8)
        .attr("stroke", "#cccccc")
        .attr("stroke-opacity", 0.8)
        .attr("stroke-width", 2.2);
      lg.attr("transform", `translate(${PANEL_W - 16 - boxW},16)`);
    });
  }, []);

  return (
    <svg
      ref={svgRef}
      width={W}
      height={H}
      viewBox={`0 0 ${W} ${H}`}
      style={{ position: "absolute", left: 0, top: 0, display: "block" }}
    />
  );
}
